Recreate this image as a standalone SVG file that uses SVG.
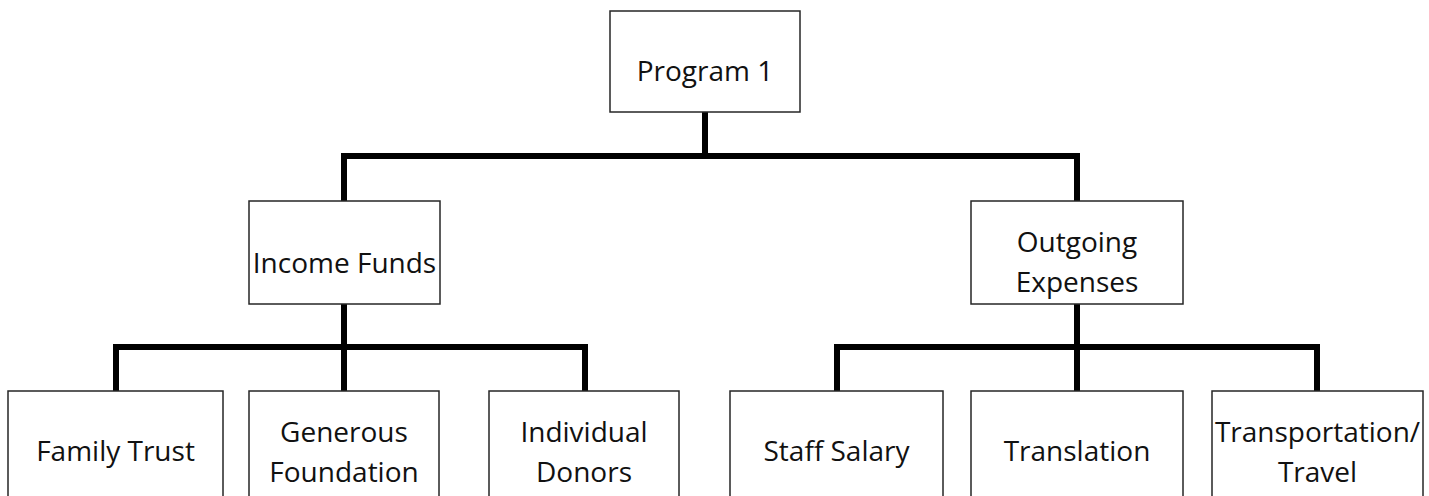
<svg xmlns="http://www.w3.org/2000/svg" width="1429" height="496" viewBox="0 0 1429 496">
<style>
.box{fill:#fff;stroke:#262626;stroke-width:1.5}
.t{font-family:"Open Sans","Liberation Sans",sans-serif;font-size:28px;fill:#111;text-anchor:middle}
.c{fill:none;stroke:#000;stroke-width:6;stroke-linejoin:miter}
</style>
<rect width="1429" height="496" fill="#fff"/>
<g id="connectors">
<path class="c" d="M705 112 V156"/>
<path class="c" d="M344 201 V156 H1077 V201"/>
<path class="c" d="M344 304 V391"/>
<path class="c" d="M116 391 V347 H585 V391"/>
<path class="c" d="M1077 304 V391"/>
<path class="c" d="M837 391 V347 H1317 V391"/>
</g>
<g id="program1"><rect class="box" x="610" y="11" width="190" height="101"/><text class="t" x="705" y="81">Program 1</text></g>
<g id="income"><rect class="box" x="249" y="201" width="191" height="103"/><text class="t" x="344.5" y="273">Income Funds</text></g>
<g id="outgoing"><rect class="box" x="971" y="201" width="212" height="103"/><text class="t" x="1077" y="252">Outgoing</text><text class="t" x="1077" y="292">Expenses</text></g>
<g id="family"><rect class="box" x="8" y="391" width="215" height="108"/><text class="t" x="115.5" y="461">Family Trust</text></g>
<g id="generous"><rect class="box" x="249" y="391" width="190" height="108"/><text class="t" x="344" y="442">Generous</text><text class="t" x="344" y="482">Foundation</text></g>
<g id="individual"><rect class="box" x="489" y="391" width="190" height="108"/><text class="t" x="584" y="442">Individual</text><text class="t" x="584" y="482">Donors</text></g>
<g id="staff"><rect class="box" x="730" y="391" width="213" height="108"/><text class="t" x="836.5" y="461">Staff Salary</text></g>
<g id="translation"><rect class="box" x="971" y="391" width="212" height="108"/><text class="t" x="1077" y="461">Translation</text></g>
<g id="transport"><rect class="box" x="1212" y="391" width="211" height="108"/><text class="t" x="1317.5" y="442">Transportation/</text><text class="t" x="1317.5" y="482">Travel</text></g>
</svg>
